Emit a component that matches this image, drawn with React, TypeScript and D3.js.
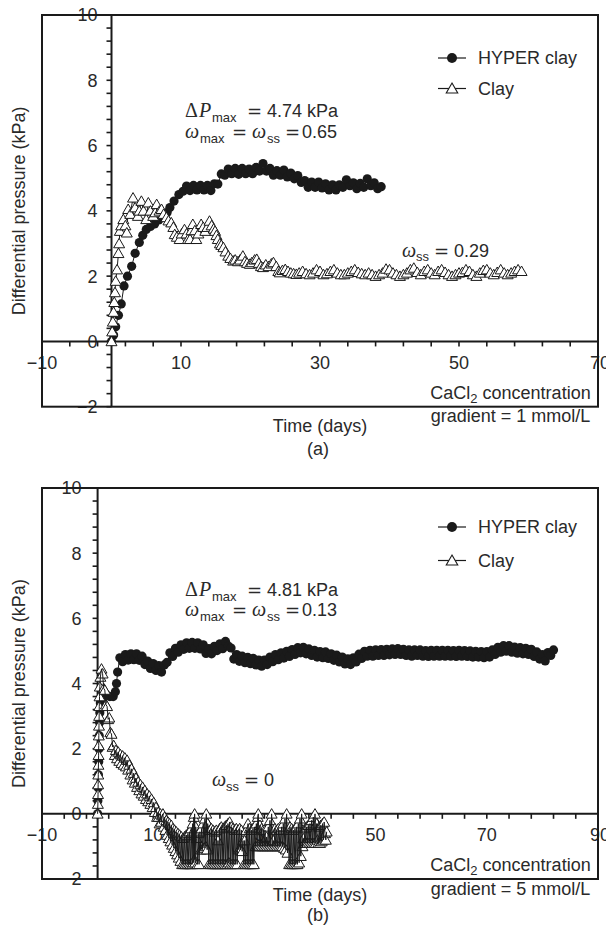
import React from 'react';
import * as d3 from 'd3';

type Pt = [number, number];

// (a) CaCl2 gradient = 1 mmol/L — [time (days), differential pressure (kPa)]
const hyperClayA: Pt[] = [
  [0, 0], [0.3, 0.2], [0.6, 0.45], [1.0, 0.8], [1.4, 1.15], [1.8, 1.7], [2.3, 2.0], [2.9, 2.3],
  [3.4, 2.7], [4.0, 3.03], [4.5, 3.25], [5.0, 3.43], [5.6, 3.52], [6.2, 3.6], [6.8, 3.72], [7.4, 3.84],
  [8.0, 3.95], [8.4, 4.1], [9.0, 4.3], [9.7, 4.5], [10.3, 4.6], [10.8, 4.76], [11.3, 4.62], [11.8, 4.78],
  [12.3, 4.64], [12.8, 4.78], [13.3, 4.64], [13.8, 4.78], [14.3, 4.62], [14.8, 4.83], [15.3, 4.82], [15.8, 5.13],
  [16.3, 5.09], [16.8, 5.28], [17.3, 5.14], [17.8, 5.3], [18.3, 5.12], [18.8, 5.3], [19.3, 5.14], [19.8, 5.28],
  [20.3, 5.14], [20.8, 5.33], [21.3, 5.22], [21.8, 5.45], [22.3, 5.22], [22.8, 5.3], [23.3, 5.09], [23.8, 5.23],
  [24.3, 5.09], [24.8, 5.25], [25.3, 5.04], [25.8, 5.16], [26.3, 4.98], [26.8, 5.08], [27.3, 4.87], [27.8, 4.93],
  [28.3, 4.72], [28.8, 4.88], [29.3, 4.72], [29.8, 4.88], [30.3, 4.7], [30.8, 4.83], [31.3, 4.64], [31.8, 4.8],
  [32.3, 4.64], [32.8, 4.8], [33.3, 4.72], [33.8, 4.95], [34.3, 4.77], [34.8, 4.86], [35.3, 4.68], [35.8, 4.84],
  [36.3, 4.72], [36.8, 4.98], [37.3, 4.77], [37.8, 4.86], [38.3, 4.68], [38.8, 4.74],
];

const clayA: Pt[] = [
  [0, 0], [0.1, 0.3], [0.2, 0.6], [0.3, 0.9], [0.4, 1.2], [0.5, 1.5], [0.6, 1.85], [0.8, 2.2],
  [1.0, 2.7], [1.1, 3.0], [1.2, 3.38], [1.4, 3.55], [1.7, 3.74], [2.0, 3.55], [2.2, 3.33], [2.4, 4.05],
  [2.7, 3.9], [3.1, 4.4], [3.4, 4.1], [3.8, 3.84], [4.0, 4.0], [4.3, 4.3], [4.6, 4.0], [5.0, 3.74],
  [5.3, 4.25], [5.6, 4.0], [6.0, 3.84], [6.3, 3.95], [6.5, 4.2], [6.9, 4.0], [7.2, 4.05], [7.5, 3.9],
  [7.9, 3.8], [8.2, 3.7], [8.6, 3.64], [8.9, 3.5], [9.1, 3.28], [9.4, 3.2], [9.8, 3.13], [10.1, 3.3],
  [10.5, 3.43], [10.8, 3.3], [11.0, 3.13], [11.3, 3.13], [11.5, 3.4], [11.7, 3.59], [12.0, 3.4], [12.2, 3.13],
  [12.5, 3.3], [12.9, 3.59], [13.2, 3.5], [13.5, 3.38], [13.8, 3.5], [14.1, 3.69], [14.4, 3.55], [14.7, 3.45],
  [14.9, 3.38], [15.1, 3.25], [15.3, 3.13], [15.6, 3.0], [15.8, 2.95], [16.1, 2.88], [16.4, 2.75], [16.8, 2.62],
  [17.1, 2.55], [17.5, 2.47], [17.8, 2.5], [18.2, 2.45], [18.5, 2.5], [18.9, 2.62], [19.2, 2.45], [19.5, 2.4],
  [19.9, 2.37], [20.2, 2.42], [20.6, 2.5], [20.9, 2.52], [21.2, 2.4], [21.5, 2.3], [21.8, 2.27], [22.2, 2.35],
  [22.6, 2.3], [23.0, 2.38], [23.3, 2.42], [23.7, 2.3], [24.0, 2.15], [24.2, 2.11], [24.6, 2.18], [25.0, 2.21],
  [25.4, 2.15], [25.8, 2.1], [26.2, 2.08], [26.6, 2.06], [27.0, 2.1], [27.5, 2.15], [28.0, 2.08], [28.5, 2.05],
  [29.0, 2.1], [29.5, 2.2], [30.0, 2.15], [30.5, 2.05], [31.0, 2.08], [31.5, 2.15], [32.0, 2.2], [32.5, 2.1],
  [33.0, 2.05], [33.5, 2.05], [34.0, 2.1], [34.5, 2.15], [35.0, 2.2], [35.5, 2.12], [36.0, 2.08], [36.5, 2.05],
  [37.0, 2.1], [37.5, 2.05], [38.0, 2.0], [38.5, 2.05], [39.0, 2.1], [39.5, 2.22], [40.0, 2.2], [40.5, 2.1],
  [41.0, 2.05], [41.5, 2.0], [42.0, 2.05], [42.5, 2.1], [43.0, 2.2], [43.5, 2.25], [44.0, 2.12], [44.5, 2.05],
  [45.0, 2.15], [45.5, 2.2], [46.0, 2.1], [46.5, 2.05], [47.0, 2.15], [47.5, 2.2], [48.0, 2.12], [48.5, 2.05],
  [49.0, 2.0], [49.5, 2.05], [50.0, 2.1], [50.5, 2.12], [51.0, 2.2], [51.5, 2.15], [52.0, 2.05], [52.5, 2.0],
  [53.0, 2.1], [53.5, 2.18], [54.0, 2.2], [54.5, 2.1], [55.0, 2.05], [55.5, 2.12], [56.0, 2.2], [56.5, 2.1],
  [57.0, 2.05], [57.5, 2.1], [58.0, 2.15], [58.5, 2.2], [59.0, 2.15],
];

// (b) CaCl2 gradient = 5 mmol/L
const hyperClayB: Pt[] = [
  [0, 0], [0.05, 0.4], [0.1, 0.8], [0.15, 1.2], [0.2, 1.6], [0.25, 2.0], [0.3, 2.4], [0.35, 2.8],
  [0.4, 3.1], [0.5, 3.4], [1.0, 3.55], [1.6, 3.65], [2.2, 3.6], [2.8, 3.6], [3.2, 3.75], [3.4, 4.0],
  [3.6, 4.35], [4.0, 4.79], [4.5, 4.67], [5.0, 4.89], [5.5, 4.72], [6.0, 4.91], [6.5, 4.73], [7.0, 4.91],
  [7.5, 4.71], [8.0, 4.84], [8.5, 4.58], [9.0, 4.69], [9.5, 4.46], [10.0, 4.61], [10.5, 4.4], [11.0, 4.55],
  [11.5, 4.35], [12.0, 4.57], [12.5, 4.65], [13.0, 4.94], [13.5, 4.83], [14.0, 5.08], [14.5, 4.96], [15.0, 5.19],
  [15.5, 5.05], [16.0, 5.25], [16.5, 5.08], [17.0, 5.26], [17.5, 5.08], [18.0, 5.25], [18.5, 5.06], [19.0, 5.19],
  [19.5, 4.92], [20.0, 5.07], [20.5, 4.91], [21.0, 5.14], [21.5, 5.01], [22.0, 5.22], [22.5, 5.07], [23.0, 5.29],
  [23.5, 5.15], [24.0, 5.09], [24.5, 4.75], [25.0, 4.89], [25.5, 4.68], [26.0, 4.84], [26.5, 4.64], [27.0, 4.8],
  [27.5, 4.61], [28.0, 4.77], [28.5, 4.57], [29.0, 4.72], [29.5, 4.53], [30.0, 4.72], [30.5, 4.58], [31.0, 4.81],
  [31.5, 4.67], [32.0, 4.89], [32.5, 4.73], [33.0, 4.94], [33.5, 4.78], [34.0, 4.99], [34.5, 4.83], [35.0, 5.04],
  [35.5, 4.89], [36.0, 5.1], [36.5, 4.94], [37.0, 5.11], [37.5, 4.91], [38.0, 5.06], [38.5, 4.86], [39.0, 5.02],
  [39.5, 4.81], [40.0, 4.98], [40.5, 4.79], [41.0, 4.97], [41.5, 4.77], [42.0, 4.91], [42.5, 4.71], [43.0, 4.87],
  [43.5, 4.66], [44.0, 4.81], [44.5, 4.6], [45.0, 4.76], [45.5, 4.58], [46.0, 4.79], [46.5, 4.66], [47.0, 4.9],
  [47.5, 4.77], [48.0, 4.99], [48.5, 4.84], [49.0, 5.02], [49.5, 4.84], [50.0, 5.03], [50.5, 4.86], [51.0, 5.04],
  [51.5, 4.86], [52.0, 5.05], [52.5, 4.88], [53.0, 5.06], [53.5, 4.89], [54.0, 5.07], [54.5, 4.89], [55.0, 5.05],
  [55.5, 4.86], [56.0, 5.03], [56.5, 4.84], [57.0, 5.03], [57.5, 4.86], [58.0, 5.03], [58.5, 4.84], [59.0, 5.01],
  [59.5, 4.83], [60.0, 5.02], [60.5, 4.84], [61.0, 5.02], [61.5, 4.84], [62.0, 5.02], [62.5, 4.84], [63.0, 5.02],
  [63.5, 4.84], [64.0, 5.01], [64.5, 4.83], [65.0, 5.02], [65.5, 4.84], [66.0, 5.01], [66.5, 4.83], [67.0, 5.0],
  [67.5, 4.81], [68.0, 4.99], [68.5, 4.81], [69.0, 4.98], [69.5, 4.79], [70.0, 4.98], [70.5, 4.81], [71.0, 5.03],
  [71.5, 4.89], [72.0, 5.11], [72.5, 4.96], [73.0, 5.16], [73.5, 4.99], [74.0, 5.16], [74.5, 4.96], [75.0, 5.12],
  [75.5, 4.93], [76.0, 5.1], [76.5, 4.91], [77.0, 5.08], [77.5, 4.89], [78.0, 5.05], [78.5, 4.83], [79.0, 4.97],
  [79.5, 4.75], [80.0, 4.89], [80.5, 4.69], [81.0, 4.95], [81.5, 4.86], [82.0, 5.03],
];

const clayB: Pt[] = [
  // fast rise and decay
  [0, 0], [0.05, 0.3], [0.08, 0.6], [0.1, 0.9], [0.12, 1.2], [0.15, 1.5], [0.18, 1.8], [0.2, 2.1],
  [0.22, 2.4], [0.25, 2.7], [0.28, 3.0], [0.3, 3.3], [0.35, 3.6], [0.4, 3.9], [0.5, 4.2], [0.7, 4.45],
  [0.9, 4.3], [1.1, 3.85], [1.3, 3.8], [1.5, 3.35], [1.7, 3.3], [1.9, 2.9], [2.1, 2.95], [2.3, 2.5],
  [2.5, 2.45], [2.7, 2.05], [2.9, 2.1], [3.1, 1.8], [3.3, 1.95], [3.5, 1.7], [3.7, 1.9], [3.9, 1.62],
  [4.1, 1.82], [4.3, 1.55], [4.5, 1.78], [4.7, 1.5], [4.9, 1.72], [5.1, 1.45], [5.3, 1.65], [5.5, 1.35],
  [5.7, 1.5], [5.9, 1.2], [6.1, 1.38], [6.3, 1.05], [6.5, 1.25], [6.7, 0.95], [6.9, 1.1], [7.1, 0.82],
  [7.3, 0.98], [7.5, 0.72], [7.7, 0.9], [7.9, 0.62], [8.1, 0.82], [8.3, 0.55], [8.5, 0.72], [8.7, 0.45],
  [8.9, 0.62], [9.1, 0.38], [9.3, 0.55], [9.5, 0.3], [9.7, 0.45], [9.9, 0.2], [10.1, 0.35], [10.3, 0.05],
  [10.5, 0.2], [10.7, -0.1], [10.9, 0.05],
  // fluctuation around and below zero
  [11.0, -0.1], [11.15, -0.3], [11.3, 0.0], [11.45, -0.25], [11.6, -0.05], [11.75, 0.0],
  [11.9, -0.4], [12.05, -0.1], [12.2, -0.5], [12.35, -0.2], [12.5, -0.65], [12.65, -0.25], [12.8, -0.75], [12.95, -0.3],
  [13.1, -0.85], [13.25, -0.35], [13.4, -0.95], [13.55, -0.45], [13.7, -1.05], [13.85, -0.5], [14.0, -1.15], [14.15, -0.55],
  [14.3, -1.25], [14.45, -0.6], [14.6, -1.35], [14.75, -0.65], [14.9, -1.45], [15.05, -0.7], [15.2, -1.55], [15.35, -0.75],
  [15.5, -1.55], [15.65, -0.7], [15.8, -1.55], [15.95, -0.65], [16.1, -1.55], [16.25, -0.6], [16.4, -1.55], [16.55, -0.55],
  [16.7, -1.55], [16.85, -0.45], [17.0, -1.55], [17.1, -0.3], [17.2, -1.5], [17.3, -0.1], [17.4, -1.4], [17.45, 0.0],
  [17.55, -1.5], [17.65, -0.4], [17.8, -0.75], [17.95, -1.55], [18.1, -0.6], [18.25, -1.55], [18.4, -0.55],
  [18.55, -1.1], [18.7, -0.45], [18.85, -1.1], [19.0, -0.3], [19.15, -1.05], [19.3, -0.15], [19.45, -1.0], [19.55, 0.0],
  [19.7, -1.1], [19.8, -0.3],
  [20.0, -1.55], [20.15, -0.5], [20.3, -1.55], [20.45, -0.45], [20.6, -1.55], [20.75, -0.5], [20.9, -1.55], [21.05, -0.55],
  [21.2, -1.55], [21.35, -0.5], [21.5, -1.55], [21.65, -0.82], [21.8, -1.55], [21.95, -0.45], [22.1, -1.55], [22.25, -0.4],
  [22.4, -1.55], [22.55, -0.45], [22.7, -1.55], [22.85, -0.4], [23.0, -1.55], [23.15, -0.35], [23.3, -1.55], [23.45, -0.3],
  [23.6, -1.5], [23.75, -0.25], [23.9, -1.55], [24.05, -0.4], [24.2, -1.55], [24.35, -0.45], [24.5, -1.55], [24.65, -0.5],
  [24.8, -1.55], [24.95, -0.45], [25.1, -1.55], [25.25, -0.5],
  [25.4, -1.1], [25.55, -0.45], [25.7, -1.1], [25.85, -0.5], [26.0, -1.15], [26.15, -0.82],
  [26.3, -1.55], [26.45, -0.82], [26.6, -1.55], [26.75, -0.5], [26.9, -1.55], [27.05, -0.3], [27.2, -1.55], [27.35, -0.45],
  [27.5, -1.55], [27.65, -0.5], [27.8, -1.55], [27.95, -0.45], [28.1, -1.55], [28.25, -0.4],
  [28.4, -1.0], [28.55, -0.3], [28.7, -1.0], [28.8, -0.1], [28.9, 0.0], [29.05, -1.0], [29.2, -0.35], [29.35, -1.0],
  [29.5, -0.45], [29.65, -1.0], [29.8, -0.5], [29.95, -1.0], [30.1, -0.5], [30.25, -1.0], [30.4, -0.71], [30.55, -1.0],
  [30.7, -0.4], [30.85, -1.0], [31.0, -0.2], [31.15, -1.0], [31.3, 0.0], [31.45, -1.0], [31.6, -0.82], [31.75, -1.0],
  [31.9, -0.45], [32.05, -1.0], [32.2, -0.5], [32.35, -1.0], [32.5, -0.45], [32.65, -1.0], [32.8, -0.5], [32.95, -1.0],
  [33.1, -0.4], [33.25, -1.0], [33.4, -0.3], [33.55, -1.05], [33.7, -0.15], [33.85, -1.1], [34.0, 0.0], [34.15, -1.2],
  [34.3, -0.5],
  [34.45, -1.55], [34.6, -0.4], [34.75, -1.55], [34.9, -0.45], [35.05, -1.55], [35.2, -0.5], [35.35, -1.55], [35.5, -0.45],
  [35.65, -1.55], [35.8, -0.4], [35.95, -1.55], [36.1, -0.3], [36.25, -1.5], [36.4, -0.15], [36.55, -1.3], [36.7, 0.0],
  [36.85, -1.0], [37.0, -0.76],
  [37.15, -0.9], [37.3, -0.45], [37.45, -0.9], [37.6, -0.4], [37.75, -0.9], [37.9, -0.35], [38.05, -0.9], [38.2, -0.3],
  [38.35, -0.9], [38.5, -0.2], [38.65, -0.9], [38.8, -0.1], [38.95, -0.9], [39.1, 0.0], [39.25, -0.9], [39.4, -0.3],
  [39.55, -0.8], [39.7, -0.9], [39.85, -0.4], [40.0, -0.9], [40.15, -0.35], [40.3, -0.85], [40.45, -0.3], [40.6, -0.8],
  [40.75, -0.25], [40.9, -0.6], [41.05, -0.8], [41.2, -0.55],
];

const yTickLabels = [-2, 0, 2, 4, 6, 8, 10];
const xTickLabelsA = [-10, 10, 30, 50, 70];
const xTickLabelsB = [-10, 10, 30, 50, 70, 90];
const seriesNames = ['HYPER clay', 'Clay'];

const SANS = '"Liberation Sans", Arial, Helvetica, sans-serif';
const SERIF = '"Liberation Serif", "Times New Roman", serif';
const MATH = '"DejaVu Sans", "Liberation Sans", sans-serif';
const INK = '#1a1a1a';
const TXT = '#2a2a2a';

const W = 606;
const H = 927;
const LEFT = 42;
const RIGHT = 598;

const fmt = (v: number) => (v < 0 ? '\u2212' + Math.abs(v) : String(v));

function tri(cx: number, cy: number, w = 11, h = 9.5) {
  return `M${cx},${cy - h * 0.55}L${cx + w / 2},${cy + h * 0.45}L${cx - w / 2},${cy + h * 0.45}Z`;
}

// "ω_ss = value" label; offs set the horizontal placement of each piece
function OmegaEq({ x, y, sub, value, offs }: { x: number; y: number; sub: string; value: string; offs: number[] }) {
  return (
    <text y={y} fontSize={18} fill={TXT} fontFamily={SANS}>
      <tspan x={x + offs[0]} fontFamily={SERIF} fontStyle="italic" fontSize={20}>
        ω
      </tspan>
      <tspan x={x + offs[1]} fontSize={13} dy={4.5}>
        {sub}
      </tspan>
      <tspan x={x + offs[2]} fontFamily={MATH} fontSize={18} dy={-4.5}>
        =
      </tspan>
      <tspan x={x + offs[3]}>{value}</tspan>
    </text>
  );
}

type PanelProps = {
  top: number;
  bottom: number;
  xMax: number;
  xLabels: number[];
  hyper: Pt[];
  clay: Pt[];
  clayTraceOnTop: boolean;
  yLabelGap: number;
  legendRows: [number, number];
  dp: string;
  omegaMax: string;
  annY: [number, number];
  omegaSS: string;
  ssPos: [number, number];
  ssOffs: number[];
  gradient: string;
  letter: string;
  titleY: [number, number];
};

function Panel(p: PanelProps) {
  const x = d3.scaleLinear().domain([-10, p.xMax]).range([LEFT, RIGHT]);
  const y = d3.scaleLinear().domain([-2, 10]).range([p.bottom, p.top]);
  const x0 = x(0);
  const y0 = y(0);
  const xMinor = d3.range(-10, p.xMax + 0.01, 4);
  const yMinor = d3.range(-2, 10.001, 0.4);
  const line = d3
    .line<Pt>()
    .x((d) => x(d[0]))
    .y((d) => y(d[1]));
  const midY = (p.top + p.bottom) / 2;
  const midX = (LEFT + RIGHT) / 2;
  const ax = 185;

  const clayTrace = <path d={line(p.clay) || ''} fill="none" stroke={INK} strokeWidth={1} />;

  return (
    <g>
      {/* tick labels (drawn underneath the frame and data) */}
      {yTickLabels.map((v) => (
        <text
          key={'yl' + v}
          x={x0 - p.yLabelGap}
          y={y(v)}
          dy="0.36em"
          textAnchor="end"
          fontFamily={SANS}
          fontSize={18}
          fill={TXT}
        >
          {fmt(v)}
        </text>
      ))}
      {p.xLabels.map((v) => (
        <text
          key={'xl' + v}
          x={x(v) + (v === p.xMax ? 2 : 0)}
          y={y0 + 27.5}
          textAnchor="middle"
          fontFamily={SANS}
          fontSize={18}
          fill={TXT}
        >
          {fmt(v)}
        </text>
      ))}

      {/* axis titles */}
      <text
        transform={`translate(25,${midY}) rotate(-90)`}
        textAnchor="middle"
        fontFamily={SANS}
        fontSize={18}
        fill={TXT}
      >
        Differential pressure (kPa)
      </text>
      <text x={midX} y={p.titleY[0]} textAnchor="middle" fontFamily={SANS} fontSize={18} fill={TXT}>
        Time (days)
      </text>
      <text x={midX - 2} y={p.titleY[1]} textAnchor="middle" fontFamily={SANS} fontSize={18} fill={TXT}>
        {p.letter}
      </text>
      <text x={510.5} y={p.bottom - 8} textAnchor="middle" fontFamily={SANS} fontSize={18} fill={TXT}>
        CaCl
        <tspan fontSize={13} dy={4}>
          2
        </tspan>
        <tspan dy={-4}> concentration</tspan>
      </text>
      <text x={510.5} y={p.bottom + 15.5} textAnchor="middle" fontFamily={SANS} fontSize={18} fill={TXT}>
        {p.gradient}
      </text>

      {/* annotations */}
      <text y={p.annY[0]} fontSize={18} fill={TXT} fontFamily={SANS}>
        <tspan x={ax} fontFamily={SERIF} fontSize={20}>
          Δ
        </tspan>
        <tspan x={ax + 14} fontFamily={SERIF} fontStyle="italic" fontSize={20}>
          P
        </tspan>
        <tspan x={ax + 27} fontSize={13} dy={4.5}>
          max
        </tspan>
        <tspan x={ax + 62} fontFamily={MATH} dy={-4.5}>
          =
        </tspan>
        <tspan x={ax + 82}>{p.dp} kPa</tspan>
      </text>
      <text y={p.annY[1]} fontSize={18} fill={TXT} fontFamily={SANS}>
        <tspan x={ax} fontFamily={SERIF} fontStyle="italic" fontSize={20}>
          ω
        </tspan>
        <tspan x={ax + 15} fontSize={13} dy={4.5}>
          max
        </tspan>
        <tspan x={ax + 47} fontFamily={MATH} dy={-4.5}>
          =
        </tspan>
        <tspan x={ax + 67} fontFamily={SERIF} fontStyle="italic" fontSize={20}>
          ω
        </tspan>
        <tspan x={ax + 82} fontSize={13} dy={4.5}>
          ss
        </tspan>
        <tspan x={ax + 100} fontFamily={MATH} dy={-4.5}>
          =
        </tspan>
        <tspan x={ax + 117}>{p.omegaMax}</tspan>
      </text>
      <OmegaEq x={p.ssPos[0]} y={p.ssPos[1]} sub="ss" value={p.omegaSS} offs={p.ssOffs} />

      {/* axes through the origin */}
      <line x1={LEFT} x2={RIGHT} y1={y0} y2={y0} stroke={INK} strokeWidth={2} />
      <line x1={x0} x2={x0} y1={p.top} y2={p.bottom} stroke={INK} strokeWidth={2} />
      {xMinor.map((v) => (
        <line key={'xt' + v} x1={x(v)} x2={x(v)} y1={y0} y2={y0 + 5} stroke={INK} strokeWidth={1.6} />
      ))}
      {yMinor.map((v, i) => (
        <line key={'yt' + i} x1={x0 - 5} x2={x0} y1={y(v)} y2={y(v)} stroke={INK} strokeWidth={1.6} />
      ))}

      {/* HYPER clay: line + filled circles */}
      <path d={line(p.hyper) || ''} fill="none" stroke={INK} strokeWidth={1} />
      {p.hyper.map((d, i) => (
        <circle key={'h' + i} cx={x(d[0])} cy={y(d[1])} r={4.6} fill={INK} />
      ))}

      {/* Clay: open triangles in time order; the dense (b) record has its trace over the markers */}
      {!p.clayTraceOnTop && clayTrace}
      {p.clay.map((d, i) => (
        <path key={'c' + i} d={tri(x(d[0]), y(d[1]))} fill="#fff" stroke={INK} strokeWidth={1} />
      ))}
      {p.clayTraceOnTop && clayTrace}

      {/* frame */}
      <rect
        x={LEFT}
        y={p.top}
        width={RIGHT - LEFT}
        height={p.bottom - p.top}
        fill="none"
        stroke={INK}
        strokeWidth={2}
      />

      {/* legend */}
      {seriesNames.map((name, i) => {
        const ly = p.legendRows[i];
        return (
          <g key={name}>
            <line x1={438} x2={466} y1={ly} y2={ly} stroke={INK} strokeWidth={1.2} />
            {i === 0 ? (
              <circle cx={452} cy={ly} r={5} fill={INK} />
            ) : (
              <path d={tri(452, ly, 11.5, 10)} fill="#fff" stroke={INK} strokeWidth={1.1} />
            )}
            <text x={478} y={ly + 6.3} fontFamily={SANS} fontSize={18} fill={TXT}>
              {name}
            </text>
          </g>
        );
      })}
    </g>
  );
}

export default function App() {
  return (
    <svg
      width={W}
      height={H}
      viewBox={`0 0 ${W} ${H}`}
      style={{ position: 'absolute', left: 0, top: 0, background: '#fff' }}
    >
      <rect width={W} height={H} fill="#fff" />
      <Panel
        top={15}
        bottom={406.7}
        xMax={70}
        xLabels={xTickLabelsA}
        hyper={hyperClayA}
        clay={clayA}
        clayTraceOnTop={false}
        yLabelGap={14}
        legendRows={[58, 88.5]}
        dp="4.74"
        omegaMax="0.65"
        annY={[117, 138]}
        omegaSS="0.29"
        ssPos={[402, 256.5]}
        ssOffs={[0, 14, 32, 52]}
        gradient="gradient = 1 mmol/L"
        letter="(a)"
        titleY={[432, 454.5]}
      />
      <Panel
        top={488}
        bottom={879}
        xMax={90}
        xLabels={xTickLabelsB}
        hyper={hyperClayB}
        clay={clayB}
        clayTraceOnTop={true}
        yLabelGap={16}
        legendRows={[527, 560.5]}
        dp="4.81"
        omegaMax="0.13"
        annY={[596, 616]}
        omegaSS="0"
        ssPos={[212, 786]}
        ssOffs={[0, 14, 32, 52]}
        gradient="gradient = 5 mmol/L"
        letter="(b)"
        titleY={[901, 921]}
      />
    </svg>
  );
}
